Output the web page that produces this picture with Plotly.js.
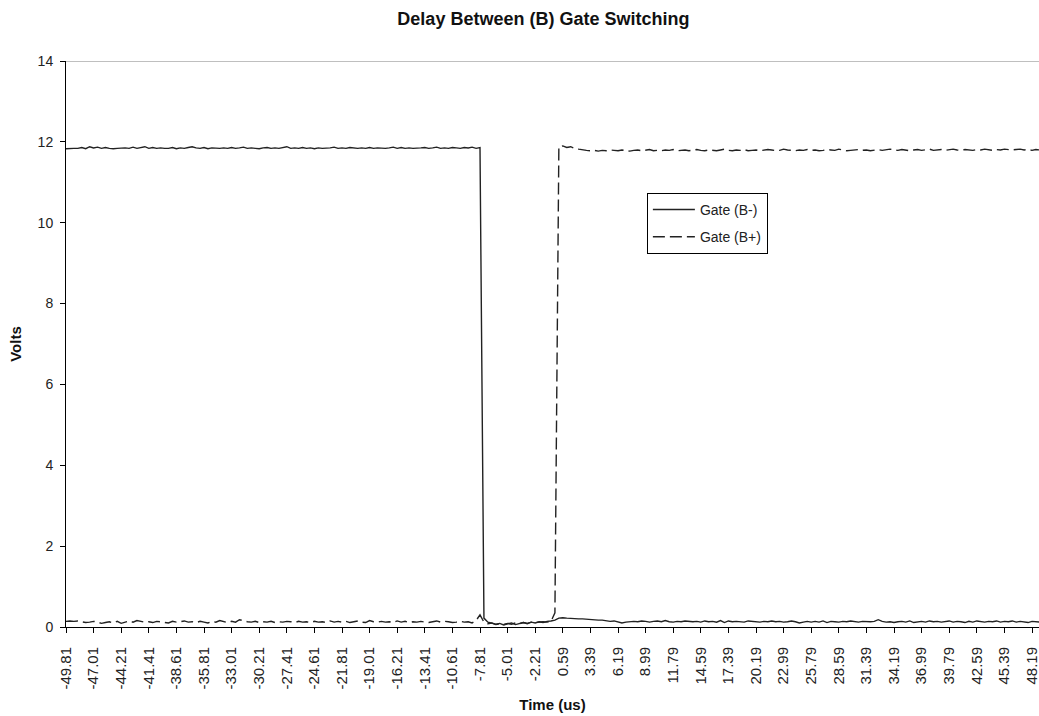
<!DOCTYPE html>
<html>
<head>
<meta charset="utf-8">
<script src="https://cdn.plot.ly/plotly-3.0.1.min.js"></script>
<style>
html,body{margin:0;padding:0;background:#fff;}
#chart{width:1039px;height:716px;}
</style>
</head>
<body>
<div id="chart"></div>
<script>
// Sampling grid of the scope capture (us)
const T0 = -49.81;
const DT = 0.4;

// Tick labels shown on the time axis (us)
const tickLabels = [-49.81,-47.01,-44.21,-41.41,-38.61,-35.81,-33.01,-30.21,-27.41,-24.61,
  -21.81,-19.01,-16.21,-13.41,-10.61,-7.81,-5.01,-2.21,0.59,3.39,6.19,8.99,11.79,14.59,
  17.39,20.19,22.99,25.79,28.59,31.39,34.19,36.99,39.79,42.59,45.39,48.19];

// Gate (B-) volts
const gateBminus = [
11.83,11.84,11.84,11.84,11.86,11.83,11.88,11.85,11.87,11.84,
11.86,11.84,11.83,11.84,11.85,11.85,11.84,11.87,11.84,11.86,
11.88,11.84,11.86,11.84,11.85,11.84,11.84,11.86,11.83,11.85,
11.84,11.86,11.88,11.85,11.84,11.86,11.83,11.85,11.84,11.84,
11.85,11.84,11.86,11.84,11.85,11.87,11.84,11.85,11.84,11.83,
11.85,11.86,11.84,11.85,11.84,11.86,11.88,11.84,11.85,11.84,
11.86,11.84,11.85,11.83,11.85,11.84,11.84,11.85,11.87,11.84,
11.85,11.84,11.86,11.85,11.84,11.85,11.84,11.86,11.84,11.85,
11.84,11.84,11.85,11.87,11.84,11.86,11.84,11.85,11.84,11.84,
11.85,11.86,11.84,11.85,11.87,11.84,11.85,11.84,11.86,11.85,
11.84,11.86,11.85,11.87,11.84,11.86,0.22,0.12,0.10,0.07,
0.09,0.05,0.08,0.10,0.06,0.09,0.11,0.08,0.12,0.10,
0.13,0.11,0.14,0.15,0.17,0.22,0.23,0.22,0.21,0.21,
0.20,0.20,0.19,0.19,0.18,0.17,0.17,0.16,0.14,0.15,
0.13,0.10,0.12,0.13,0.14,0.13,0.15,0.14,0.12,0.14,
0.15,0.13,0.16,0.13,0.12,0.14,0.13,0.15,0.14,0.13,
0.14,0.12,0.15,0.13,0.14,0.12,0.16,0.11,0.15,0.13,
0.14,0.13,0.12,0.15,0.14,0.13,0.12,0.14,0.13,0.15,
0.13,0.14,0.12,0.13,0.15,0.13,0.10,0.12,0.14,0.12,
0.14,0.12,0.15,0.11,0.14,0.13,0.12,0.14,0.13,0.15,
0.13,0.12,0.14,0.13,0.13,0.14,0.18,0.14,0.12,0.13,
0.11,0.13,0.14,0.12,0.15,0.11,0.13,0.14,0.12,0.15,
0.13,0.14,0.12,0.13,0.15,0.12,0.14,0.13,0.11,0.14,
0.12,0.15,0.13,0.12,0.14,0.13,0.15,0.12,0.14,0.13,
0.15,0.12,0.14,0.13,0.11,0.14,0.13,0.12
];

// Gate (B+) volts
const gateBplus = [
0.14,0.15,0.14,0.15,0.13,0.11,0.12,0.14,0.12,0.09,
0.11,0.13,0.10,0.14,0.09,0.12,0.15,0.12,0.16,0.14,
0.12,0.13,0.11,0.14,0.13,0.12,0.10,0.14,0.12,0.13,
0.15,0.12,0.13,0.11,0.14,0.12,0.10,0.14,0.12,0.16,
0.13,0.11,0.14,0.12,0.18,0.15,0.13,0.12,0.14,0.11,
0.13,0.12,0.14,0.11,0.13,0.12,0.14,0.13,0.11,0.14,
0.12,0.13,0.11,0.14,0.12,0.13,0.11,0.15,0.12,0.14,
0.12,0.14,0.11,0.13,0.15,0.12,0.11,0.16,0.13,0.12,
0.14,0.12,0.13,0.11,0.15,0.12,0.14,0.11,0.13,0.12,
0.14,0.12,0.11,0.13,0.15,0.12,0.14,0.13,0.11,0.12,
0.14,0.12,0.13,0.10,0.16,0.30,0.12,0.08,0.10,0.06,
0.08,0.06,0.09,0.07,0.10,0.08,0.11,0.09,0.12,0.11,
0.12,0.13,0.12,0.14,0.35,11.88,11.90,11.86,11.88,11.84,
11.82,11.80,11.79,11.78,11.79,11.77,11.79,11.78,11.80,11.79,
11.78,11.80,11.79,11.77,11.79,11.80,11.78,11.79,11.81,11.78,
11.79,11.78,11.80,11.79,11.81,11.78,11.79,11.80,11.78,11.79,
11.81,11.79,11.78,11.80,11.79,11.78,11.80,11.82,11.79,11.78,
11.80,11.79,11.81,11.78,11.79,11.80,11.78,11.79,11.81,11.80,
11.78,11.79,11.82,11.80,11.79,11.78,11.80,11.79,11.81,11.79,
11.80,11.78,11.79,11.81,11.80,11.79,11.82,11.80,11.78,11.79,
11.80,11.81,11.79,11.80,11.78,11.80,11.81,11.79,11.80,11.82,
11.80,11.79,11.81,11.80,11.78,11.80,11.81,11.79,11.80,11.82,
11.79,11.80,11.81,11.79,11.80,11.82,11.80,11.79,11.81,11.80,
11.79,11.81,11.80,11.82,11.80,11.79,11.81,11.80,11.82,11.81,
11.80,11.81,11.82,11.80,11.81,11.79,11.81,11.80
];

const time = gateBminus.map((_, i) => +(T0 + i * DT).toFixed(2));

const FONT = 'Liberation Sans, Arial, sans-serif';
const INK = '#222222';

const traces = [
  {
    x: time, y: gateBminus, type: 'scatter', mode: 'lines', name: 'Gate (B-)',
    legendgroup: 'a',
    line: {color: INK, width: 1.4}
  },
  {
    x: time, y: gateBplus, type: 'scatter', mode: 'lines', name: 'Gate (B+)',
    legendgroup: 'b',
    line: {color: INK, width: 1.4, dash: '12px,5px'}
  }
];

const layout = {
  width: 1039, height: 716,
  margin: {l: 66, r: 0, t: 61, b: 89},
  paper_bgcolor: '#ffffff', plot_bgcolor: '#ffffff',
  font: {family: FONT, color: INK, size: 12},
  title: {text: 'Delay Between (B) Gate Switching', font: {family: FONT, size: 18, color: '#111', weight: 'bold'},
          x: 0.523, xanchor: 'center', y: 0.974, yanchor: 'middle'},
  showlegend: true,
  legend: {x: 0.597, y: 0.767, xanchor: 'left', yanchor: 'top',
           bgcolor: '#ffffff', bordercolor: '#000000', borderwidth: 1,
           font: {family: FONT, size: 14, color: INK},
           itemwidth: 42,
           traceorder: 'grouped', tracegroupgap: 6},
  xaxis: {
    range: [-49.81, 48.9], automargin: false,
    tickmode: 'array', tickvals: tickLabels, ticktext: tickLabels.map(v => v.toFixed(2)),
    tickangle: -90, ticks: 'outside', ticklen: 5, tickcolor: '#000', tickwidth: 1,
    ticklabelstandoff: 8, ticklabeloverflow: 'allow',
    showline: true, linecolor: '#000', linewidth: 1,
    showgrid: false, zeroline: false,
    tickfont: {family: FONT, size: 15, color: INK},
    title: {text: 'Time (us)', font: {family: FONT, size: 15, color: '#111', weight: 'bold'}, standoff: 10}
  },
  yaxis: {
    range: [0, 14], dtick: 2, tick0: 0, automargin: false,
    ticks: 'outside', ticklen: 5, tickcolor: '#000', tickwidth: 1,
    ticklabelstandoff: 4,
    showline: true, linecolor: '#000', linewidth: 1,
    showgrid: false, zeroline: false,
    tickfont: {family: FONT, size: 14, color: INK},
    title: {text: 'Volts', font: {family: FONT, size: 15, color: '#111', weight: 'bold'}, standoff: 12}
  },
  shapes: [
    {type: 'line', xref: 'paper', yref: 'y', x0: 0, x1: 1, y0: 14, y1: 14,
     line: {color: '#808080', width: 1}}
  ]
};

Plotly.newPlot('chart', traces, layout, {displayModeBar: false, staticPlot: true});
</script>
</body>
</html>
